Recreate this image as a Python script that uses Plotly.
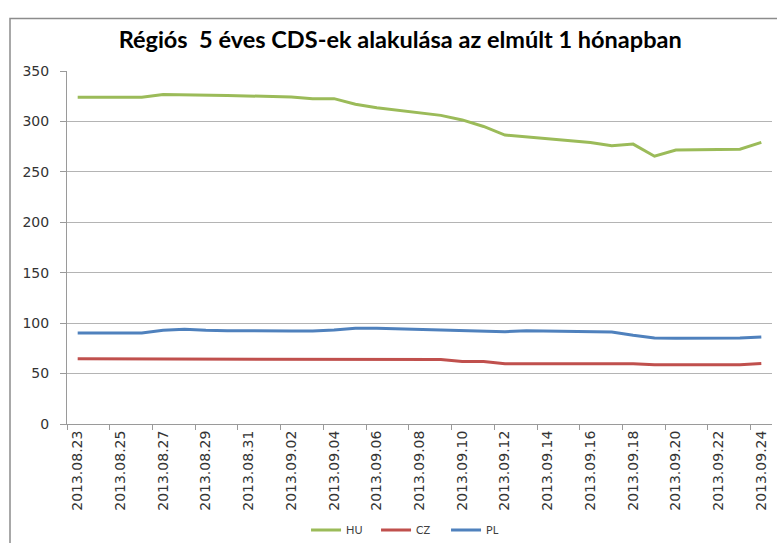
import pandas as pd
import plotly.graph_objects as go

# ---- data ----
dates = ["2013-08-23", "2013-08-26", "2013-08-27", "2013-08-28", "2013-08-29", "2013-08-30",
         "2013-09-02", "2013-09-03", "2013-09-04", "2013-09-05", "2013-09-06",
         "2013-09-09", "2013-09-10", "2013-09-11", "2013-09-12", "2013-09-13",
         "2013-09-16", "2013-09-17", "2013-09-18", "2013-09-19", "2013-09-20",
         "2013-09-23", "2013-09-24"]
hu = [324.0, 324.0, 326.8, 326.6, 326.2, 325.8,
      324.2, 322.6, 322.6, 317.0, 313.5,
      306.0, 301.5, 295.0, 286.5, 284.5,
      279.0, 276.0, 277.5, 265.5, 271.7,
      272.5, 279.3]
cz = [64.6, 64.6, 64.6, 64.6, 64.6, 64.4,
      64.0, 64.0, 64.0, 64.0, 64.0,
      64.0, 62.0, 62.0, 59.8, 59.8,
      59.8, 59.8, 59.8, 58.8, 58.8,
      58.8, 60.0]
pl = [90.2, 90.2, 92.9, 93.9, 92.9, 92.5,
      92.2, 92.2, 93.2, 94.9, 94.9,
      93.5, 92.5, 92.5, 91.5, 92.5,
      91.2, 91.2, 87.9, 85.3, 85.0,
      85.3, 86.3]
series_names = ["HU", "CZ", "PL"]
series_colors = ["#9BBB59", "#C0504D", "#4F81BD"]
tick_dates = pd.date_range("2013-08-23", "2013-09-24", freq="2D")
tick_labels = [d.strftime("%Y.%m.%d") for d in tick_dates]
title_text = "Régiós\u00a0 5 éves CDS-ek alakulása az elmúlt 1 hónapban"

# ---- figure ----
fig = go.Figure()
for name, vals, col in zip(series_names, [hu, cz, pl], series_colors):
    fig.add_trace(go.Scatter(x=pd.to_datetime(dates), y=vals, mode="lines", name=name,
                             line=dict(color=col, width=3)))

x_start = tick_dates[0] - pd.Timedelta(hours=12)
x_end = tick_dates[-1] + pd.Timedelta(hours=12)

fig.update_layout(
    width=777, height=543, autosize=False,
    paper_bgcolor="white", plot_bgcolor="white",
    margin=dict(l=67, r=5, t=71, b=119),
    title=dict(text=title_text, x=0.515, xref="container", xanchor="center",
               y=0.926, yref="container", yanchor="middle",
               font=dict(family="Lato", size=23.5, color="black", weight="bold")),
    showlegend=True,
    legend=dict(orientation="h", x=0.488, xanchor="center",
                y=1 - 530 / 543, yref="container", yanchor="middle",
                font=dict(family="Lato", size=11, color="#404040"),
                itemwidth=30, entrywidth=25, bgcolor="rgba(0,0,0,0)"),
    font=dict(family="DejaVu Sans", size=14, color="#333333"),
)
fig.update_xaxes(
    type="date", range=[x_start, x_end], automargin=False,
    tickmode="array", tickvals=tick_dates, ticktext=tick_labels, tickangle=-90,
    ticks="", showgrid=False, zeroline=False,
    showline=True, linecolor="#9a9a9a", linewidth=1,
    tickfont=dict(family="DejaVu Sans", size=14, color="#333333"),
    minor=dict(tickmode="linear", tick0=x_start, dtick=2 * 86400000, ticks="outside",
               ticklen=5, tickcolor="#9a9a9a", tickwidth=1, showgrid=False),
)
fig.update_yaxes(
    range=[0, 350], dtick=50, tick0=0, automargin=False,
    ticks="outside", ticklen=6, tickcolor="#9a9a9a", ticklabelstandoff=8,
    showgrid=True, gridcolor="#b4b4b4", gridwidth=1, zeroline=False,
    showline=True, linecolor="#9a9a9a", linewidth=1,
    tickfont=dict(family="DejaVu Sans", size=14, color="#333333"),
)
# outer chart frame
fig.add_shape(type="rect", xref="paper", yref="paper",
              x0=(10 - 67) / 705, x1=1.2, y0=-0.6, y1=(424 - 18.5) / 353,
              line=dict(color="#8c8c8c", width=1.5), fillcolor="rgba(0,0,0,0)", layer="below")

fig.write_html("out.html", config={"displayModeBar": False},
               post_script="document.body.style.margin='0';document.body.style.overflow='hidden';")
